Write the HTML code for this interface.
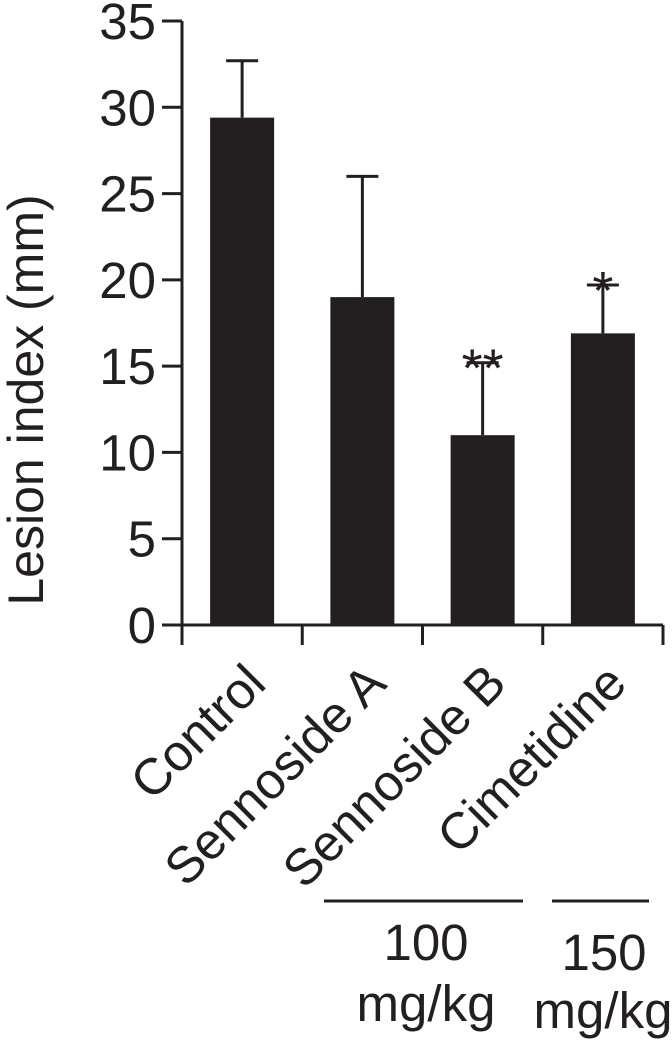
<!DOCTYPE html>
<html><head><meta charset="utf-8"><style>
html,body{margin:0;padding:0;background:#fff;}
svg text{font-family:"Liberation Sans",Arial,sans-serif;fill:#231f20;}
</style></head><body>
<svg id="chart" width="672" height="1042" viewBox="0 0 672 1042" xmlns="http://www.w3.org/2000/svg">
<g id="axes"></g><g id="bars"></g><g id="labels"></g>
<text transform="translate(43,400) rotate(-90)" text-anchor="middle" font-size="50">Lesion index (mm)</text>
<line x1="324" y1="901" x2="523" y2="901" stroke="#231f20" stroke-width="3"/>
<line x1="552" y1="901" x2="649" y2="901" stroke="#231f20" stroke-width="3"/>
<text x="426" y="960" text-anchor="middle" font-size="51">100</text>
<text x="426" y="1021" text-anchor="middle" font-size="51">mg/kg</text>
<text x="604" y="970" text-anchor="middle" font-size="51">150</text>
<text x="603" y="1028" text-anchor="middle" font-size="51">mg/kg</text>
</svg>
<script>
const categories=["Control","Sennoside A","Sennoside B","Cimetidine"];
const means=[29.4,19.0,11.0,16.9];
const errors=[3.3,7.0,4.2,2.8];
const stars=["","","**","*"];
const yTicks=[0,5,10,15,20,25,30,35];
const NS="http://www.w3.org/2000/svg";
const x0=182,x1=663,y0=625,yTop=21,yMax=35;
const y=v=>y0-(v/yMax)*(y0-yTop);
const band=(x1-x0)/categories.length;
const xc=i=>x0+band*(i+0.5);
const bw=64,col="#231f20";
function mk(tag,attrs,parent){const e=document.createElementNS(NS,tag);for(const k in attrs)e.setAttribute(k,attrs[k]);parent.appendChild(e);return e;}
const axes=document.getElementById('axes'),bars=document.getElementById('bars'),labels=document.getElementById('labels');
let a=mk('line',{x1:x0,y1:yTop,x2:x0,y2:y0,stroke:col,'stroke-width':3},axes);


a=mk('line',{x1:x0,y1:y0,x2:x1,y2:y0,stroke:col,'stroke-width':3},axes);


yTicks.forEach(t=>{
 const l=mk('line',{x1:x0-20,y1:y(t),x2:x0,y2:y(t),stroke:col,'stroke-width':3},axes);
 
 
 const tx=mk('text',{x:156,y:y(t)+18,'text-anchor':'end','font-size':51},axes);
 tx.textContent=t;
 
 
});
for(let i=0;i<=categories.length;i++){
 const l=mk('line',{x1:x0+band*i,y1:y0,x2:x0+band*i,y2:645,stroke:col,'stroke-width':3},axes);
 
 
}
categories.forEach((c,i)=>{
 const cx=xc(i);
 const top=y(means[i]),et=y(means[i]+errors[i]);
 const el=mk('line',{x1:cx,y1:et,x2:cx,y2:top,stroke:col,'stroke-width':3},bars);
 
 
 const cap=mk('line',{x1:cx-16,y1:et,x2:cx+16,y2:et,stroke:col,'stroke-width':3},bars);
 
 
 const r=mk('rect',{x:cx-bw/2,y:top,width:bw,height:y0-top,fill:col},bars);
 
 
 if(stars[i]){
  const s=mk('text',{x:cx,y:et+24,'text-anchor':'middle','font-size':54},labels);
  s.textContent=stars[i];
  
  
 }
 const t=mk('text',{transform:`translate(${cx+26},686) rotate(-45)`,'text-anchor':'end','font-size':51},labels);
 t.textContent=c;
 
 
});
</script>
</body></html>
